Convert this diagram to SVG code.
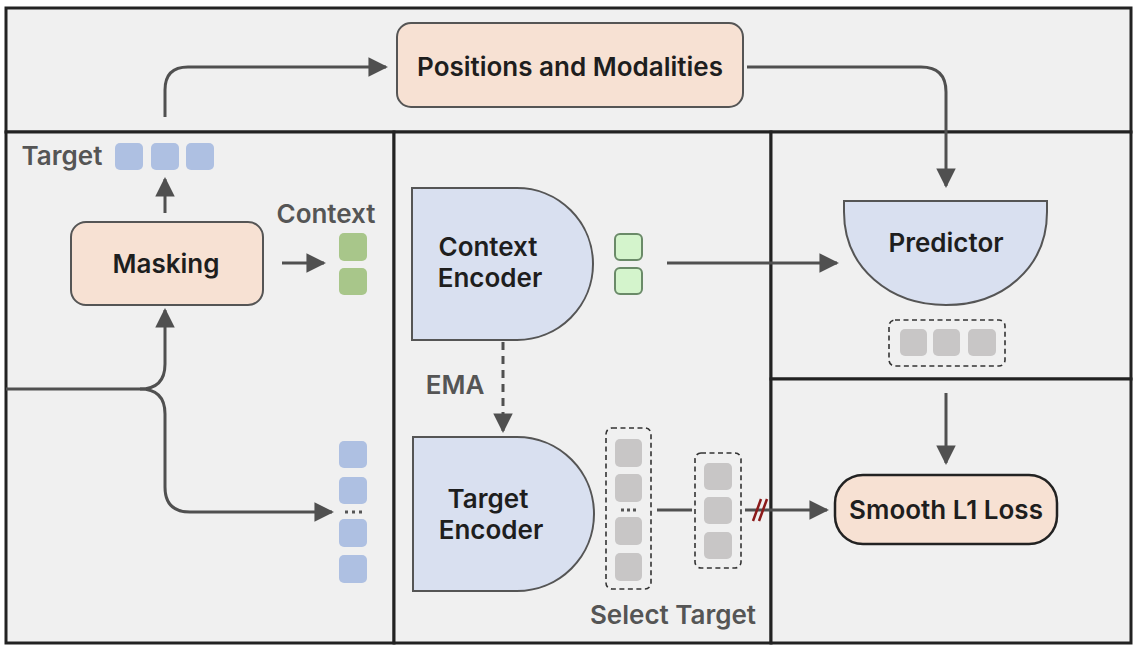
<svg xmlns="http://www.w3.org/2000/svg" width="1138" height="648" viewBox="0 0 1138 648">
<defs>
<style>
.panel{fill:#f0f0f0;stroke:#222;stroke-width:3}
.box{fill:#f7e1d3;stroke:#555;stroke-width:2}
.enc{fill:#d9e0f0;stroke:#555;stroke-width:2}
.lbl{font-family:Inter,"Noto Sans",sans-serif;font-weight:600;font-size:26px;fill:#1e1e1e}
.glbl{font-family:Inter,"Noto Sans",sans-serif;font-weight:600;font-size:26px;fill:#555}
.conn{fill:none;stroke:#505050;stroke-width:3}
.dash{fill:none;stroke:#333;stroke-width:1.6;stroke-dasharray:5 3.5}
.blue{fill:#aec0e2}
.gray{fill:#c8c6c6}
.lgreen{fill:#d4f4cc;stroke:#6a8a68;stroke-width:2}
.dgreen{fill:#a8c68a}
</style>
<marker id="arr" viewBox="0 0 10 10" refX="9" refY="5" markerWidth="6.5" markerHeight="6.5" markerUnits="strokeWidth" orient="auto">
<path d="M0,0 L10,5 L0,10 Z" fill="#505050"/>
</marker>
</defs>
<rect width="1138" height="648" fill="#ffffff"/>
<g id="panels">
<rect class="panel" x="6" y="8" width="1125" height="124"/>
<rect class="panel" x="6" y="132" width="388" height="511"/>
<rect class="panel" x="394" y="132" width="377" height="511"/>
<rect class="panel" x="771" y="132" width="360" height="247"/>
<rect class="panel" x="771" y="379" width="360" height="264"/>
</g>
<g id="connectors">
<path class="conn" d="M165,117 V90 Q165,67 188,67 H386" marker-end="url(#arr)"/>
<path class="conn" d="M747,67 H921 Q946,67 946,92 V186" marker-end="url(#arr)"/>
<path class="conn" d="M165,213 V179" marker-end="url(#arr)"/>
<path class="conn" d="M282,263 H324" marker-end="url(#arr)"/>
<path class="conn" d="M6,389 H140 Q165,389 165,364 V310" marker-end="url(#arr)"/>
<path class="conn" d="M140,389 Q165,389 165,414 V487 Q165,512 190,512 H332" marker-end="url(#arr)"/>
<path class="conn" d="M667,263 H837" marker-end="url(#arr)"/>
<path class="conn" d="M503,342 V431" stroke-dasharray="8 6" marker-end="url(#arr)"/>
<path class="conn" d="M657,510 H692"/>
<path class="conn" d="M745,510 H827" marker-end="url(#arr)"/>
<path class="conn" d="M946,393 V463" marker-end="url(#arr)"/>
<path d="M753,521 L761,499 M759,521 L767,499" stroke="#8b1a1a" stroke-width="2.5" fill="none"/>
</g>
<g id="positions">
<rect class="box" x="397" y="23" width="346" height="84" rx="14"/>
<text class="lbl" x="570" y="76" text-anchor="middle">Positions and Modalities</text>
</g>
<g id="target-tokens">
<text class="glbl" x="62" y="165" text-anchor="middle">Target</text>
<rect class="blue" x="115" y="143" width="28" height="27" rx="5"/>
<rect class="blue" x="151" y="143" width="28" height="27" rx="5"/>
<rect class="blue" x="186" y="143" width="28" height="27" rx="5"/>
</g>
<g id="masking">
<rect class="box" x="71" y="222" width="192" height="83" rx="15"/>
<text class="lbl" x="166" y="273" text-anchor="middle">Masking</text>
</g>
<g id="context-tokens">
<text class="glbl" x="326" y="223" text-anchor="middle">Context</text>
<rect class="dgreen" x="339" y="233" width="28" height="28" rx="5"/>
<rect class="dgreen" x="339" y="268" width="28" height="27" rx="5"/>
</g>
<g id="all-tokens">
<rect class="blue" x="339" y="441" width="28" height="27" rx="5"/>
<rect class="blue" x="339" y="477" width="28" height="27" rx="5"/>
<rect class="blue" x="339" y="519" width="28" height="28" rx="5"/>
<rect class="blue" x="339" y="555" width="28" height="28" rx="5"/>
<path d="M345,512 h3 M352,512 h3 M359,512 h3" stroke="#555" stroke-width="3"/>
</g>
<g id="context-encoder">
<path class="enc" d="M412,188 H517 A76,76 0 0 1 517,340 H412 Z"/>
<text class="lbl" x="488" y="256" text-anchor="middle">Context</text>
<text class="lbl" x="490" y="287" text-anchor="middle">Encoder</text>
</g>
<g id="context-output">
<rect class="lgreen" x="615" y="234" width="27" height="26" rx="5"/>
<rect class="lgreen" x="615" y="268" width="27" height="26" rx="5"/>
</g>
<g id="ema">
<text class="glbl" x="455" y="394" text-anchor="middle">EMA</text>
</g>
<g id="target-encoder">
<path class="enc" d="M413,437 H517 A77,77 0 0 1 517,591 H413 Z"/>
<text class="lbl" x="488" y="508" text-anchor="middle">Target</text>
<text class="lbl" x="491" y="539" text-anchor="middle">Encoder</text>
</g>
<g id="target-output">
<rect class="dash" x="606" y="428" width="45" height="161" rx="6"/>
<rect class="gray" x="615" y="439" width="27" height="28" rx="5"/>
<rect class="gray" x="615" y="474" width="27" height="28" rx="5"/>
<rect class="gray" x="615" y="517" width="27" height="28" rx="5"/>
<rect class="gray" x="615" y="553" width="27" height="28" rx="5"/>
<path d="M621,510 h3 M627,510 h3 M633,510 h3" stroke="#555" stroke-width="3"/>
</g>
<g id="selected-target">
<rect class="dash" x="695" y="453" width="46" height="115" rx="6"/>
<rect class="gray" x="704" y="463" width="28" height="27" rx="5"/>
<rect class="gray" x="704" y="497" width="28" height="27" rx="5"/>
<rect class="gray" x="704" y="532" width="28" height="27" rx="5"/>
<text class="glbl" x="673" y="624" text-anchor="middle">Select Target</text>
</g>
<g id="predictor">
<path class="enc" d="M844,201 H1047 V212 C1047,268 1002,305 946,305 C890,305 844,268 844,212 Z"/>
<text class="lbl" x="946" y="252" text-anchor="middle">Predictor</text>
</g>
<g id="predictor-output">
<rect class="dash" x="889" y="320" width="116" height="46" rx="6"/>
<rect class="gray" x="900" y="329" width="27" height="27" rx="5"/>
<rect class="gray" x="933" y="329" width="27" height="27" rx="5"/>
<rect class="gray" x="968" y="329" width="28" height="27" rx="5"/>
</g>
<g id="loss">
<rect x="835" y="475" width="222" height="69" rx="28" fill="#f7e1d3" stroke="#222" stroke-width="2.5"/>
<text class="lbl" x="946" y="519" text-anchor="middle">Smooth L1 Loss</text>
</g>
</svg>
